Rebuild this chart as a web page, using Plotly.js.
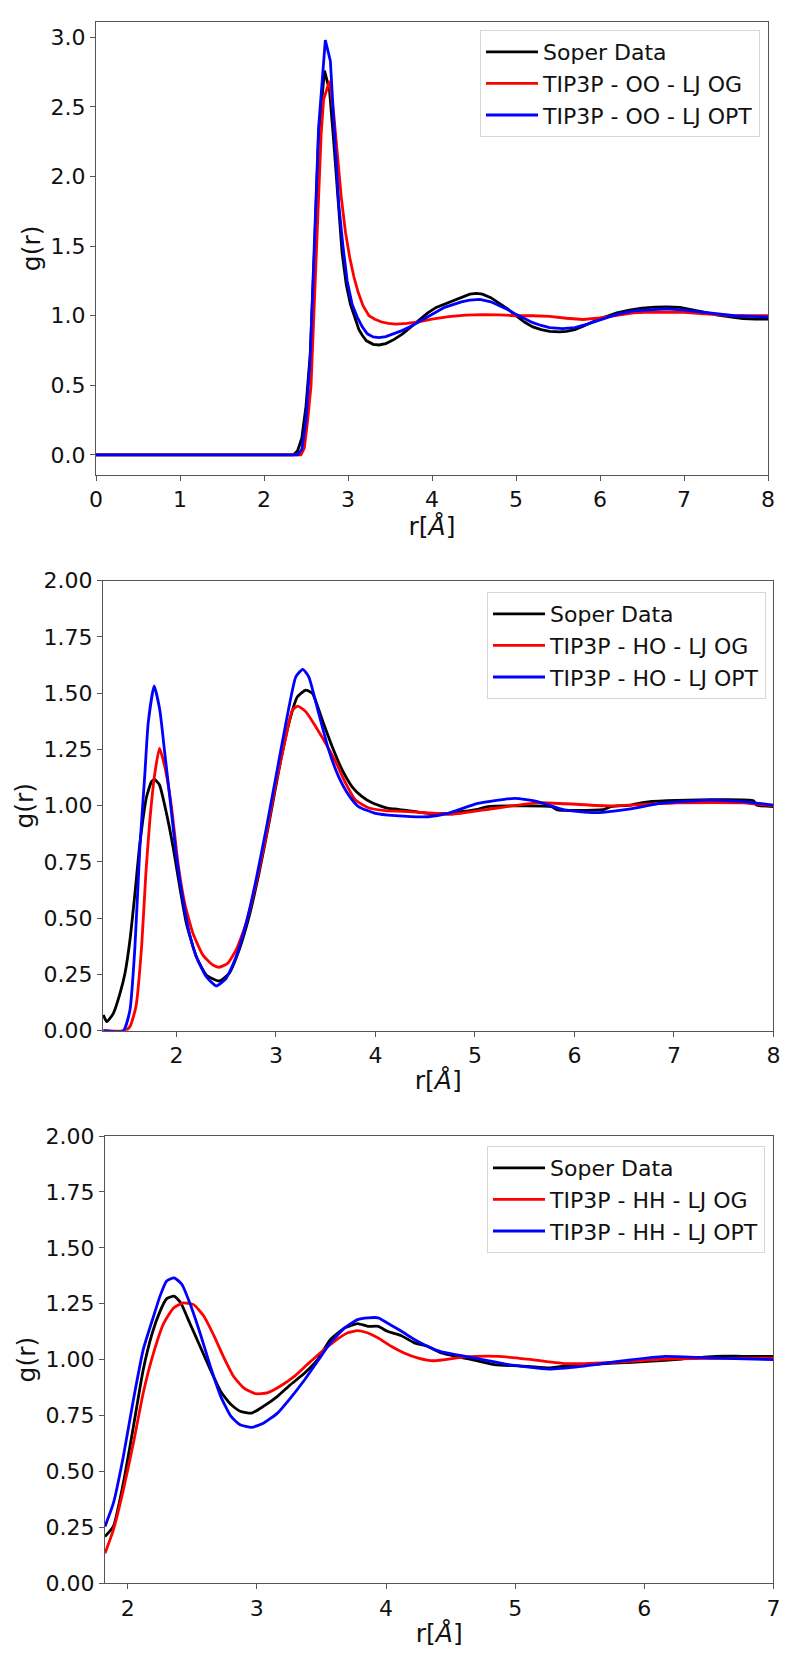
<!DOCTYPE html>
<html>
<head>
<meta charset="utf-8">
<script src="https://cdn.plot.ly/plotly-3.0.1.min.js"></script>
<style>html,body{margin:0;padding:0;background:#fff;}</style>
</head>
<body>
<div id="chart" style="width:800px;height:1667px;"></div>
<script>
// ---- Panel 1: O-O ----
const r_oo_soper = [0, 2.35, 2.4, 2.45, 2.5, 2.55, 2.6, 2.65, 2.72, 2.78, 2.83, 2.88, 2.93, 2.98, 3.03, 3.08, 3.13, 3.17, 3.22, 3.3, 3.37, 3.45, 3.55, 3.65, 3.75, 3.85, 3.95, 4.05, 4.15, 4.25, 4.35, 4.45, 4.53, 4.6, 4.7, 4.8, 4.9, 5.0, 5.1, 5.2, 5.3, 5.4, 5.52, 5.6, 5.7, 5.8, 5.9, 6.0, 6.1, 6.2, 6.35, 6.5, 6.65, 6.8, 6.95, 7.1, 7.25, 7.4, 7.55, 7.7, 7.85, 8.0];
const g_oo_soper = [0, 0, 0.03, 0.12, 0.35, 0.72, 1.45, 2.3, 2.76, 2.62, 2.25, 1.85, 1.45, 1.22, 1.08, 0.99, 0.9, 0.86, 0.82, 0.795, 0.79, 0.8, 0.83, 0.87, 0.92, 0.97, 1.02, 1.06, 1.085, 1.11, 1.135, 1.155, 1.161, 1.155, 1.13, 1.09, 1.05, 1.0, 0.955, 0.92, 0.9, 0.888, 0.884, 0.888, 0.9, 0.925, 0.955, 0.98, 1.0, 1.02, 1.04, 1.055, 1.062, 1.064, 1.06, 1.045, 1.025, 1.005, 0.99, 0.98, 0.975, 0.976];

const r_oo_og = [0, 2.44, 2.48, 2.52, 2.56, 2.6, 2.65, 2.68, 2.71, 2.78, 2.83, 2.87, 2.92, 2.97, 3.02, 3.07, 3.12, 3.18, 3.25, 3.32, 3.4, 3.48, 3.57, 3.7, 3.84, 4.0, 4.2, 4.4, 4.6, 4.8, 5.0, 5.2, 5.4, 5.6, 5.8, 6.0, 6.2, 6.4, 6.6, 6.8, 7.0, 7.2, 7.4, 7.6, 7.8, 8.0];
const g_oo_og = [0, 0, 0.05, 0.25, 0.5, 1.1, 1.85, 2.3, 2.555, 2.687, 2.45, 2.2, 1.85, 1.6, 1.42, 1.28, 1.17, 1.07, 1.0, 0.975, 0.955, 0.945, 0.94, 0.945, 0.956, 0.975, 0.993, 1.004, 1.008, 1.006, 1.0, 1.0, 0.995, 0.982, 0.973, 0.985, 1.005, 1.02, 1.026, 1.028, 1.025, 1.015, 1.005, 1.0, 1.0, 1.0];

const r_oo_opt = [0, 2.4, 2.45, 2.5, 2.55, 2.6, 2.65, 2.73, 2.79, 2.84, 2.89, 2.94, 2.99, 3.05, 3.11, 3.17, 3.23, 3.3, 3.37, 3.45, 3.55, 3.65, 3.75, 3.85, 3.95, 4.05, 4.15, 4.25, 4.35, 4.45, 4.57, 4.7, 4.8, 4.9, 5.0, 5.1, 5.2, 5.3, 5.4, 5.55, 5.7, 5.85, 6.0, 6.2, 6.4, 6.6, 6.8, 7.0, 7.2, 7.4, 7.6, 7.8, 8.0];
const g_oo_opt = [0, 0, 0.04, 0.25, 0.7, 1.5, 2.35, 2.98, 2.83, 2.3, 1.8, 1.5, 1.25, 1.08, 0.99, 0.92, 0.87, 0.848, 0.843, 0.85, 0.87, 0.895, 0.925, 0.96, 0.995, 1.03, 1.06, 1.08, 1.1, 1.112, 1.118, 1.1, 1.075, 1.045, 1.01, 0.98, 0.95, 0.93, 0.915, 0.908, 0.915, 0.94, 0.97, 1.01, 1.035, 1.045, 1.05, 1.04, 1.025, 1.01, 1.0, 0.995, 0.99];

// ---- Panel 2: H-O ----
const r_ho_soper = [1.266, 1.30, 1.366, 1.433, 1.483, 1.533, 1.583, 1.633, 1.70, 1.75, 1.78, 1.83, 1.9, 1.966, 2.033, 2.1, 2.2, 2.3, 2.43, 2.53, 2.63, 2.73, 2.83, 2.93, 3.03, 3.13, 3.216, 3.30, 3.366, 3.466, 3.566, 3.666, 3.766, 3.866, 3.966, 4.13, 4.23, 4.53, 4.73, 5.03, 5.13, 5.77, 5.83, 6.3, 6.37, 6.57, 6.67, 6.93, 7.8, 7.83, 8.0];
const g_ho_soper = [0.07, 0.04, 0.077, 0.166, 0.255, 0.403, 0.61, 0.833, 1.04, 1.107, 1.117, 1.092, 0.966, 0.818, 0.64, 0.477, 0.329, 0.248, 0.221, 0.255, 0.359, 0.507, 0.7, 0.922, 1.159, 1.366, 1.484, 1.514, 1.5, 1.381, 1.262, 1.159, 1.084, 1.04, 1.013, 0.988, 0.984, 0.966, 0.966, 0.984, 0.996, 0.996, 0.981, 0.984, 0.996, 1.003, 1.013, 1.022, 1.022, 1.003, 0.996];

const r_ho_og = [1.266, 1.48, 1.533, 1.593, 1.65, 1.693, 1.733, 1.783, 1.83, 1.883, 1.95, 2.016, 2.083, 2.166, 2.266, 2.366, 2.43, 2.516, 2.6, 2.7, 2.8, 2.9, 3.0, 3.1, 3.166, 3.22, 3.3, 3.4, 3.5, 3.6, 3.7, 3.8, 3.93, 4.1, 4.37, 4.77, 5.13, 5.63, 6.37, 7.03, 7.7, 8.0];
const g_ho_og = [0, 0, 0.018, 0.107, 0.373, 0.7, 0.936, 1.144, 1.255, 1.173, 0.996, 0.744, 0.566, 0.433, 0.336, 0.292, 0.282, 0.3, 0.359, 0.477, 0.655, 0.862, 1.1, 1.307, 1.425, 1.443, 1.418, 1.351, 1.277, 1.196, 1.1, 1.025, 0.991, 0.978, 0.973, 0.962, 0.984, 1.013, 0.999, 1.013, 1.013, 0.999];

const r_ho_opt = [1.266, 1.466, 1.533, 1.583, 1.633, 1.683, 1.716, 1.776, 1.833, 1.883, 1.933, 2.0, 2.066, 2.13, 2.2, 2.3, 2.40, 2.5, 2.6, 2.7, 2.8, 2.9, 3.0, 3.1, 3.2, 3.27, 3.33, 3.43, 3.53, 3.63, 3.73, 3.83, 4.0, 4.2, 4.53, 4.73, 5.03, 5.4, 5.63, 5.9, 6.2, 6.53, 6.87, 7.37, 7.7, 8.0];
const g_ho_opt = [0, 0, 0.092, 0.373, 0.818, 1.144, 1.366, 1.532, 1.425, 1.233, 1.04, 0.773, 0.581, 0.433, 0.329, 0.24, 0.199, 0.233, 0.329, 0.477, 0.67, 0.892, 1.129, 1.366, 1.573, 1.606, 1.573, 1.41, 1.248, 1.129, 1.048, 0.996, 0.966, 0.956, 0.951, 0.966, 1.01, 1.033, 1.018, 0.981, 0.969, 0.984, 1.01, 1.025, 1.018, 1.003];

// ---- Panel 3: H-H ----
const r_hh_soper = [1.824, 1.889, 1.966, 2.044, 2.12, 2.19, 2.25, 2.30, 2.36, 2.41, 2.48, 2.56, 2.64, 2.72, 2.8, 2.87, 2.96, 3.05, 3.16, 3.26, 3.37, 3.47, 3.57, 3.68, 3.78, 3.86, 3.94, 4.01, 4.12, 4.22, 4.32, 4.43, 4.69, 4.84, 5.1, 5.26, 5.41, 5.77, 6.03, 6.29, 6.55, 6.76, 7.0];
const g_hh_soper = [0.209, 0.254, 0.448, 0.701, 0.955, 1.119, 1.216, 1.272, 1.284, 1.254, 1.164, 1.06, 0.955, 0.858, 0.799, 0.769, 0.761, 0.791, 0.836, 0.888, 0.94, 1.0, 1.09, 1.142, 1.161, 1.149, 1.149, 1.127, 1.107, 1.075, 1.06, 1.03, 0.997, 0.978, 0.97, 0.963, 0.973, 0.985, 0.992, 1.003, 1.015, 1.015, 1.015];

const r_hh_og = [1.824, 1.889, 1.966, 2.044, 2.12, 2.2, 2.28, 2.355, 2.43, 2.51, 2.59, 2.67, 2.74, 2.82, 2.9, 2.99, 3.08, 3.18, 3.29, 3.39, 3.49, 3.6, 3.7, 3.78, 3.86, 3.94, 4.04, 4.14, 4.25, 4.37, 4.61, 4.87, 5.13, 5.41, 5.77, 6.16, 6.55, 7.0];
const g_hh_og = [0.134, 0.239, 0.418, 0.627, 0.851, 1.03, 1.164, 1.231, 1.254, 1.246, 1.194, 1.104, 1.015, 0.925, 0.873, 0.848, 0.851, 0.881, 0.925, 0.978, 1.03, 1.082, 1.119, 1.13, 1.119, 1.097, 1.06, 1.03, 1.007, 0.995, 1.012, 1.015, 1.0, 0.982, 0.988, 1.003, 1.006, 1.007];

const r_hh_opt = [1.824, 1.889, 1.966, 2.044, 2.12, 2.2, 2.25, 2.30, 2.36, 2.42, 2.48, 2.56, 2.64, 2.72, 2.8, 2.87, 2.96, 3.05, 3.16, 3.26, 3.37, 3.47, 3.57, 3.68, 3.78, 3.86, 3.94, 4.01, 4.12, 4.22, 4.32, 4.43, 4.69, 4.95, 5.26, 5.51, 5.83, 6.16, 6.55, 7.0];
const g_hh_opt = [0.254, 0.358, 0.567, 0.821, 1.045, 1.194, 1.284, 1.351, 1.366, 1.336, 1.254, 1.119, 0.97, 0.836, 0.746, 0.709, 0.697, 0.716, 0.761, 0.828, 0.91, 0.993, 1.075, 1.142, 1.179, 1.187, 1.187, 1.164, 1.127, 1.09, 1.06, 1.035, 1.007, 0.978, 0.958, 0.97, 0.995, 1.015, 1.007, 1.0];

const names_oo = ["Soper Data", "TIP3P - OO - LJ OG", "TIP3P - OO - LJ OPT"];
const names_ho = ["Soper Data", "TIP3P - HO - LJ OG", "TIP3P - HO - LJ OPT"];
const names_hh = ["Soper Data", "TIP3P - HH - LJ OG", "TIP3P - HH - LJ OPT"];
const colors = ["black", "red", "blue"];

const FONT = "DejaVu Sans, Verdana, sans-serif";

let gid = 0;
function mk(x, y, name, color, xa, ya, leg, shape) {
  gid += 1;
  return {x: x, y: y, name: name, type: "scatter", mode: "lines",
    line: {color: color, width: 2.8, shape: shape, smoothing: 0.5},
    xaxis: xa, yaxis: ya, legend: leg, legendgroup: "g" + gid, hoverinfo: "skip"};
}

const data = [
  mk(r_oo_soper, g_oo_soper, names_oo[0], colors[0], "x", "y", "legend", "linear"),
  mk(r_oo_og, g_oo_og, names_oo[1], colors[1], "x", "y", "legend", "linear"),
  mk(r_oo_opt, g_oo_opt, names_oo[2], colors[2], "x", "y", "legend", "linear"),
  mk(r_ho_soper, g_ho_soper, names_ho[0], colors[0], "x2", "y2", "legend2", "spline"),
  mk(r_ho_og, g_ho_og, names_ho[1], colors[1], "x2", "y2", "legend2", "spline"),
  mk(r_ho_opt, g_ho_opt, names_ho[2], colors[2], "x2", "y2", "legend2", "spline"),
  mk(r_hh_soper, g_hh_soper, names_hh[0], colors[0], "x3", "y3", "legend3", "spline"),
  mk(r_hh_og, g_hh_og, names_hh[1], colors[1], "x3", "y3", "legend3", "spline"),
  mk(r_hh_opt, g_hh_opt, names_hh[2], colors[2], "x3", "y3", "legend3", "spline")
];

const W = 800, H = 1667;
function px(v) { return v / W; }
function py(v) { return 1 - v / H; }

function xax(l, r, range, anchor) {
  return {domain: [px(l), px(r)], range: range, anchor: anchor, dtick: 1, tick0: 0,
    showline: true, mirror: true, linecolor: "#555", linewidth: 1,
    ticks: "outside", ticklen: 5, tickcolor: "#555", showgrid: false, zeroline: false,
    tickfont: {family: FONT, size: 22, color: "#111"},
    title: {text: "r[<i>Å</i>]", font: {family: FONT, size: 25, color: "#111"}, standoff: 4}};
}
function yax(t, b, range, dtick, fmt, anchor) {
  return {domain: [py(b), py(t)], range: range, anchor: anchor, dtick: dtick, tick0: 0, tickformat: fmt,
    showline: true, mirror: true, linecolor: "#555", linewidth: 1,
    ticks: "outside", ticklen: 5, tickcolor: "#555", showgrid: false, zeroline: false,
    tickfont: {family: FONT, size: 22, color: "#111"},
    title: {text: "g(r)", font: {family: FONT, size: 25, color: "#111"}, standoff: 2}};
}
function leg(left, top) {
  return {x: px(left), y: py(top), xanchor: "left", yanchor: "top",
    bgcolor: "rgba(255,255,255,0.8)", bordercolor: "#d6d6d6", borderwidth: 1,
    font: {family: FONT, size: 22, color: "#111"}, itemwidth: 52, tracegroupgap: 0};
}

const layout = {
  width: W, height: H, margin: {l: 0, r: 0, t: 0, b: 0},
  paper_bgcolor: "white", plot_bgcolor: "white", showlegend: true,
  xaxis: xax(96, 768, [0, 8], "y"),
  yaxis: yax(21.7, 475, [-0.144, 3.112], 0.5, ".1f", "x"),
  xaxis2: xax(103, 773.4, [1.262, 8], "y2"),
  yaxis2: yax(580.7, 1030.7, [0, 2], 0.25, ".2f", "x2"),
  xaxis3: xax(105, 773.4, [1.824, 7], "y3"),
  yaxis3: yax(1136, 1583.3, [0, 2], 0.25, ".2f", "x3"),
  legend: leg(480, 30),
  legend2: leg(487, 592),
  legend3: leg(487, 1146)
};

Plotly.newPlot("chart", data, layout, {staticPlot: true});
</script>
</body>
</html>
